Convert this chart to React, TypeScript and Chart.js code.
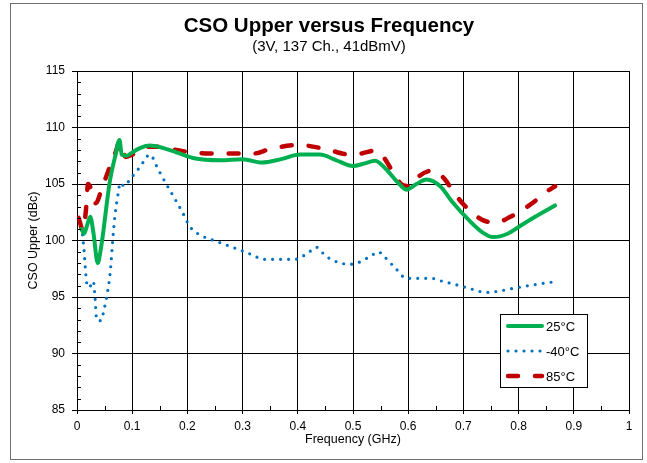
import React, { useEffect, useRef } from "react";
import { Chart, registerables } from "chart.js";

Chart.register(...registerables);

const TITLE = "CSO Upper versus Frequency";
const SUBTITLE = "(3V, 137 Ch., 41dBmV)";
const X_TITLE = "Frequency (GHz)";
const Y_TITLE = "CSO Upper (dBc)";

const freq25 = [0.008, 0.013, 0.018, 0.024, 0.03, 0.0375, 0.043, 0.048, 0.054, 0.06, 0.069, 0.077, 0.081, 0.09, 0.1, 0.115, 0.132, 0.155, 0.18, 0.21, 0.26, 0.3, 0.335, 0.37, 0.404, 0.44, 0.47, 0.5, 0.52, 0.54, 0.56, 0.58, 0.597, 0.615, 0.633, 0.658, 0.68, 0.71, 0.735, 0.754, 0.78, 0.8, 0.83, 0.866];
const cso25 = [101.0, 100.6, 101.3, 102.1, 100.6, 98.0, 99.2, 100.9, 103.3, 105.4, 107.4, 108.9, 107.6, 107.5, 107.8, 108.2, 108.4, 108.2, 107.8, 107.3, 107.1, 107.2, 106.9, 107.2, 107.6, 107.6, 107.1, 106.6, 106.8, 107.05, 106.3, 105.2, 104.5, 105.0, 105.4, 104.8, 103.4, 101.8, 100.7, 100.3, 100.6, 101.2, 102.1, 103.1];

const freq40 = [0.01, 0.013, 0.016, 0.0185, 0.022, 0.0296, 0.0326, 0.0356, 0.04, 0.0447, 0.0477, 0.0537, 0.06, 0.066, 0.069, 0.075, 0.078, 0.086, 0.095, 0.114, 0.132, 0.147, 0.161, 0.176, 0.191, 0.205, 0.227, 0.254, 0.282, 0.309, 0.3225, 0.3375, 0.395, 0.421, 0.434, 0.451, 0.493, 0.507, 0.533, 0.546, 0.556, 0.576, 0.597, 0.643, 0.658, 0.686, 0.715, 0.742, 0.757, 0.801, 0.83, 0.865];
const cso40 = [100.5, 99.0, 97.0, 96.0, 95.85, 96.4, 95.0, 93.0, 92.9, 92.95, 93.6, 95.0, 97.1, 100.8, 102.3, 104.3, 105.1, 104.8, 105.35, 106.5, 107.6, 106.3, 105.06, 103.8, 102.5, 101.2, 100.4, 99.9, 99.4, 98.9, 98.6, 98.33, 98.33, 99.0, 99.4, 98.6, 97.9, 98.0, 98.65, 99.0, 98.6, 97.6, 96.65, 96.65, 96.44, 96.1, 95.7, 95.4, 95.47, 95.86, 96.1, 96.35];

const freq85 = [0.003, 0.011, 0.016, 0.02, 0.026, 0.034, 0.045, 0.06, 0.07, 0.077, 0.081, 0.088, 0.1, 0.115, 0.13, 0.15, 0.17, 0.2, 0.24, 0.28, 0.32, 0.35, 0.4, 0.45, 0.495, 0.515, 0.54, 0.555, 0.573, 0.59, 0.605, 0.62, 0.645, 0.665, 0.682, 0.7, 0.715, 0.735, 0.76, 0.785, 0.81, 0.83, 0.85, 0.866];
const cso85 = [102.0, 100.9, 102.6, 105.0, 104.5, 103.3, 104.6, 106.6, 107.8, 108.75, 108.4, 107.4, 107.6, 107.9, 108.3, 108.3, 108.1, 107.85, 107.7, 107.7, 107.7, 108.1, 108.45, 108.1, 107.6, 107.7, 107.95, 107.4, 106.0, 104.9, 104.8, 105.7, 106.2, 105.5, 104.3, 103.2, 102.5, 101.8, 101.6, 102.1, 102.8, 103.5, 104.3, 104.8];

const seriesLabels = ["25°C", "-40°C", "85°C"];
const seriesColors = ["#00b050", "#0070c0", "#c00000"];

const FONT = "'Liberation Sans', Arial, Helvetica, sans-serif";

const toXY = (xs: number[], ys: number[]) => xs.map((x, i) => ({ x, y: ys[i] }));

const decorPlugin = {
  id: "decor",
  beforeDraw(chart: any) {
    const { ctx } = chart;
    ctx.save();
    ctx.fillStyle = "#fff";
    ctx.fillRect(0, 0, chart.width, chart.height);
    ctx.strokeStyle = "#6f6f6f";
    ctx.lineWidth = 1;
    ctx.strokeRect(10.5, 3.5, 632, 456);
    ctx.fillStyle = "#000";
    ctx.textAlign = "center";
    ctx.textBaseline = "alphabetic";
    ctx.font = `bold 20.5px ${FONT}`;
    ctx.fillText(TITLE, 329, 32);
    ctx.font = `15px ${FONT}`;
    ctx.fillText(SUBTITLE, 329, 51);
    ctx.restore();
  },
  afterDatasetsDraw(chart: any) {
    const { ctx, chartArea, scales } = chart;
    const xs = scales.x;
    const ys = scales.y;
    ctx.save();
    ctx.strokeStyle = "#000";
    ctx.lineWidth = 1;
    ctx.beginPath();
    for (let i = 1; i < 20; i += 2) {
      const px = Math.round(xs.getPixelForValue(i * 0.05)) + 0.5;
      ctx.moveTo(px, chartArea.bottom);
      ctx.lineTo(px, chartArea.bottom - 4);
    }
    for (let v = 86; v < 115; v++) {
      if (v % 5 === 0) continue;
      const py = Math.round(ys.getPixelForValue(v)) + 0.5;
      ctx.moveTo(chartArea.left, py);
      ctx.lineTo(chartArea.left + 4, py);
    }
    ctx.stroke();

    // legend box
    const bx = chartArea.right - 129;
    const by = chartArea.top + 243;
    ctx.fillStyle = "#fff";
    ctx.fillRect(bx, by, 87, 73);
    ctx.strokeStyle = "#000";
    ctx.strokeRect(bx + 0.5, by + 0.5, 87, 73);
    chart.data.datasets.forEach((ds: any, i: number) => {
      const ly = by + 12 + i * 25;
      ctx.save();
      ctx.strokeStyle = ds.borderColor;
      ctx.lineWidth = ds.borderWidth;
      ctx.lineCap = ds.borderCapStyle || "butt";
      ctx.setLineDash(ds.borderDash || []);
      ctx.beginPath();
      ctx.moveTo(bx + 8, ly);
      ctx.lineTo(bx + 42, ly);
      ctx.stroke();
      ctx.restore();
      ctx.fillStyle = "#000";
      ctx.font = `13px ${FONT}`;
      ctx.textAlign = "left";
      ctx.textBaseline = "middle";
      ctx.fillText(ds.label, bx + 46, ly + 1);
    });
    ctx.restore();
  },
};

export default function App() {
  const ref = useRef<HTMLCanvasElement | null>(null);
  useEffect(() => {
    if (!ref.current) return;
    const chart = new Chart(ref.current, {
      type: "line",
      data: {
        datasets: [
          {
            label: seriesLabels[0],
            data: toXY(freq25, cso25),
            borderColor: seriesColors[0],
            borderWidth: 4,
            borderCapStyle: "round",
            borderJoinStyle: "round",
            pointRadius: 0,
            cubicInterpolationMode: "monotone",
            fill: false,
          },
          {
            label: seriesLabels[1],
            data: toXY(freq40, cso40),
            borderColor: seriesColors[1],
            borderWidth: 3.2,
            borderDash: [0, 8],
            borderCapStyle: "round",
            pointRadius: 0,
            cubicInterpolationMode: "monotone",
            fill: false,
          },
          {
            label: seriesLabels[2],
            data: toXY(freq85, cso85),
            borderColor: seriesColors[2],
            borderWidth: 4.5,
            borderDash: [10, 17],
            borderCapStyle: "round",
            pointRadius: 0,
            cubicInterpolationMode: "monotone",
            fill: false,
          },
        ],
      },
      options: {
        animation: false,
        responsive: false,
        devicePixelRatio: 1,
        layout: { padding: { left: 10, top: 71, right: 18, bottom: 8 } },
        plugins: {
          legend: { display: false },
          title: { display: false },
          tooltip: { enabled: false },
        },
        scales: {
          x: {
            type: "linear",
            min: 0,
            max: 1,
            afterFit: (s: any) => {
              s.height = 45;
            },
            ticks: {
              stepSize: 0.1,
              color: "#000",
              font: { family: FONT, size: 12 },
              padding: 5,
              maxRotation: 0,
              callback: (v: any) => String(Number(Number(v).toFixed(1))),
            },
            grid: { color: "#000", lineWidth: 1, drawTicks: true, tickLength: 4, tickColor: "#000" },
            border: { color: "#000", width: 1 },
            title: {
              display: true,
              text: X_TITLE,
              color: "#000",
              font: { family: FONT, size: 12.5 },
              padding: { top: 0, bottom: 8 },
            },
          },
          y: {
            type: "linear",
            min: 85,
            max: 115,
            afterFit: (s: any) => {
              s.width = 67;
            },
            ticks: {
              stepSize: 5,
              color: "#000",
              font: { family: FONT, size: 12 },
              padding: 7,
            },
            grid: { color: "#000", lineWidth: 1, drawTicks: true, tickLength: 5, tickColor: "#000" },
            border: { color: "#000", width: 1 },
            title: {
              display: true,
              text: Y_TITLE,
              color: "#000",
              font: { family: FONT, size: 12.5 },
              padding: { top: 16, bottom: 0 },
            },
          },
        },
      },
      plugins: [decorPlugin],
    } as any);
    return () => chart.destroy();
  }, []);
  return (
    <div style={{ position: "fixed", left: 0, top: 0, width: 647, height: 463 }}>
      <canvas ref={ref} width={647} height={463} style={{ width: 647, height: 463 }} />
    </div>
  );
}
